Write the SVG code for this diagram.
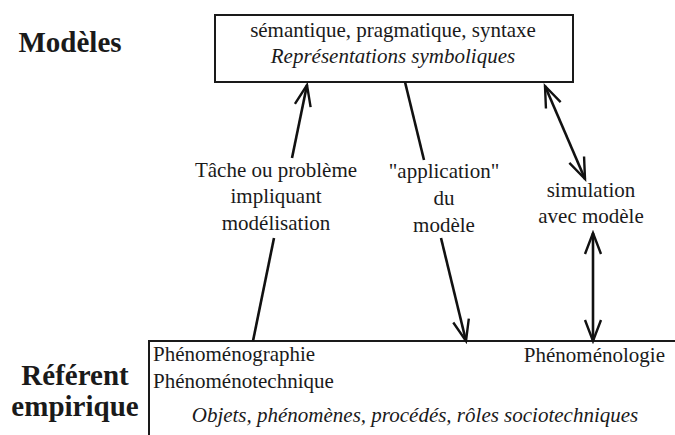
<svg xmlns="http://www.w3.org/2000/svg" width="675" height="435" viewBox="0 0 675 435">
<style>
.t{font-family:'Liberation Serif','Times New Roman',serif;font-size:21px;fill:#1a1a1a}
.i{font-style:italic}
.h{font-family:'Liberation Serif','Times New Roman',serif;font-size:29px;font-weight:bold;fill:#1a1a1a}
.box{fill:#fff;stroke:#1a1a1a;stroke-width:2}
.c{stroke:#111;stroke-width:2.6;fill:none}
</style>
<defs>
<marker id="ah" markerUnits="userSpaceOnUse" markerWidth="26" markerHeight="22" viewBox="-2 -11 26 22" refX="21" refY="0" orient="auto-start-reverse">
<path d="M0,-8 L21,0 L0,8" fill="none" stroke="#111" stroke-width="2.4"/>
</marker>
</defs>
<rect width="675" height="435" fill="#fff"/>
<g id="label-modeles"><text class="h" x="70" y="52" text-anchor="middle">Modèles</text></g>
<g id="label-referent">
<text class="h" x="75" y="385" text-anchor="middle">Référent</text>
<text class="h" x="75" y="416" text-anchor="middle">empirique</text>
</g>
<g id="node-modeles">
<rect class="box" x="215" y="15" width="358" height="67"/>
<text class="t" x="393" y="37" text-anchor="middle">sémantique, pragmatique, syntaxe</text>
<text class="t i" x="393" y="63" text-anchor="middle">Représentations symboliques</text>
</g>
<g id="node-referent">
<rect class="box" x="149" y="341" width="540" height="110"/>
<text class="t" x="153" y="361">Phénoménographie</text>
<text class="t" x="153" y="388">Phénoménotechnique</text>
<text class="t" x="665" y="362" text-anchor="end">Phénoménologie</text>
<text class="t i" x="415" y="422" text-anchor="middle">Objets, phénomènes, procédés, rôles sociotechniques</text>
</g>
<g id="connectors">
<line class="c" x1="253" y1="341" x2="274" y2="238"/>
<line class="c" x1="292" y1="158" x2="307" y2="85" marker-end="url(#ah)"/>
<text class="t" x="276" y="177" text-anchor="middle">Tâche ou problème</text>
<text class="t" x="276" y="203" text-anchor="middle">impliquant</text>
<text class="t" x="276" y="230" text-anchor="middle">modélisation</text>
<line class="c" x1="405" y1="82" x2="424" y2="160"/>
<line class="c" x1="441" y1="238" x2="466" y2="341" marker-end="url(#ah)"/>
<text class="t" x="444" y="178" text-anchor="middle">"application"</text>
<text class="t" x="444" y="205" text-anchor="middle">du</text>
<text class="t" x="444" y="232" text-anchor="middle">modèle</text>
<line class="c" x1="545" y1="86" x2="585" y2="179" marker-start="url(#ah)" marker-end="url(#ah)"/>
<text class="t" x="591" y="197" text-anchor="middle">simulation</text>
<text class="t" x="591" y="223" text-anchor="middle">avec modèle</text>
<line class="c" x1="593" y1="233" x2="593" y2="341" marker-start="url(#ah)" marker-end="url(#ah)"/>
</g>
</svg>
